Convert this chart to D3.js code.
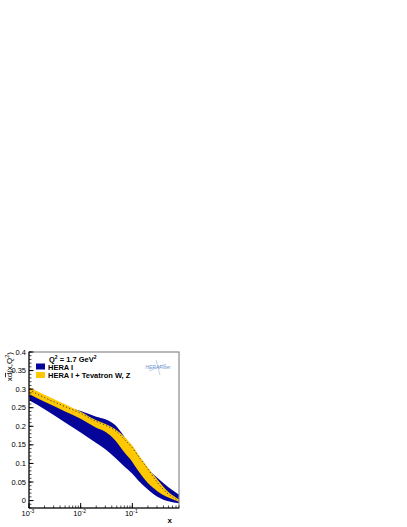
<!DOCTYPE html>
<html>
<head>
<meta charset="utf-8">
<script src="https://cdn.jsdelivr.net/npm/d3@7"></script>
<style>
  body { margin: 0; background: #fff; }
  svg { display: block; font-family: "Liberation Sans", Arial, sans-serif; }
</style>
</head>
<body>
<div id="chart"></div>
<script>
// x grid where the bands were read
const xs = [0.001, 0.002, 0.005, 0.01, 0.02, 0.03, 0.046, 0.07, 0.1, 0.13, 0.2, 0.3, 0.5, 0.8];

// HERA I band
const heraLow  = [0.270, 0.246, 0.210, 0.183, 0.155, 0.138, 0.116, 0.092, 0.072, 0.054, 0.030, 0.011, -0.002, -0.007];
const heraHigh = [0.291, 0.272, 0.253, 0.241, 0.226, 0.219, 0.204, 0.172, 0.140, 0.115, 0.085, 0.062, 0.036, 0.016];

// HERA I + Tevatron W, Z band and its central value
const tevLow  = [0.287, 0.266, 0.240, 0.220, 0.196, 0.185, 0.163, 0.130, 0.104, 0.080, 0.047, 0.026, 0.008, -0.003];
const tevHigh = [0.306, 0.285, 0.259, 0.239, 0.216, 0.206, 0.193, 0.172, 0.148, 0.125, 0.089, 0.058, 0.023, 0.003];
const tevMid  = [0.298, 0.277, 0.253, 0.235, 0.213, 0.203, 0.189, 0.165, 0.142, 0.120, 0.085, 0.050, 0.017, 0.000];

const yTicks = [0, 0.05, 0.1, 0.15, 0.2, 0.25, 0.3, 0.35, 0.4];
const xTicks = [0.001, 0.01, 0.1];
const legendItems = ["HERA I", "HERA I + Tevatron W, Z"];

const width = 407, height = 527;
const mLeft = 29, mRight = 179, mTop = 352, mBottom = 508;

const blue = "#05059a", yellow = "#ffc800";

const x = d3.scaleLog().domain([0.001, 0.8]).range([mLeft, mRight]);
const y = d3.scaleLinear().domain([-0.02, 0.4]).range([mBottom, mTop]);

const svg = d3.select("#chart").append("svg")
    .attr("width", width)
    .attr("height", height);

svg.append("defs").append("clipPath").attr("id", "plot")
  .append("rect").attr("x", mLeft).attr("y", mTop)
  .attr("width", mRight - mLeft).attr("height", mBottom - mTop);

const band = (lo, hi) => d3.area()
    .x((d, i) => x(xs[i]))
    .y0((d, i) => y(lo[i]))
    .y1((d, i) => y(hi[i]))
    .curve(d3.curveMonotoneX)(xs);

const g = svg.append("g").attr("clip-path", "url(#plot)");
g.append("path").attr("d", band(heraLow, heraHigh)).attr("fill", blue);
g.append("path").attr("d", band(tevLow, tevHigh)).attr("fill", yellow);
g.append("path")
    .attr("d", d3.line().x((d, i) => x(xs[i])).y((d, i) => y(tevMid[i])).curve(d3.curveMonotoneX)(xs))
    .attr("fill", "none")
    .attr("stroke", "#3a3a6a")
    .attr("stroke-width", 1)
    .attr("stroke-dasharray", "1.2,2.2");

// frame
svg.append("rect")
    .attr("x", mLeft).attr("y", mTop)
    .attr("width", mRight - mLeft).attr("height", mBottom - mTop)
    .attr("fill", "none").attr("stroke", "#8a8a8a").attr("stroke-width", 1.2);

// y axis (ticks pointing inside)
const yAxis = svg.append("g").attr("transform", `translate(${mLeft},0)`);
yAxis.append("line").attr("y1", mTop).attr("y2", mBottom).attr("stroke", "#000");
const yMinor = d3.range(-0.02, 0.4001, 0.01);
yAxis.selectAll("line.minor").data(yMinor).join("line").attr("class", "minor")
    .attr("x1", 0).attr("x2", 2.5)
    .attr("y1", d => y(d)).attr("y2", d => y(d)).attr("stroke", "#000").attr("stroke-width", 0.7);
yAxis.selectAll("line.major").data(yTicks).join("line").attr("class", "major")
    .attr("x1", 0).attr("x2", 4.5)
    .attr("y1", d => y(d)).attr("y2", d => y(d)).attr("stroke", "#000");
yAxis.selectAll("text").data(yTicks).join("text")
    .attr("x", -3).attr("y", d => y(d) + 2.5)
    .attr("text-anchor", "end")
    .attr("font-size", 7.5)
    .text(d => d3.format("~g")(d));

// x axis (log, ticks pointing up)
const xAxis = svg.append("g").attr("transform", `translate(0,${mBottom})`);
xAxis.append("line").attr("x1", mLeft).attr("x2", mRight).attr("stroke", "#000");
const xMinor = x.ticks().filter(t => t <= 0.8);
xAxis.selectAll("line.minor").data(xMinor).join("line").attr("class", "minor")
    .attr("x1", d => x(d)).attr("x2", d => x(d))
    .attr("y1", 0).attr("y2", -2.5).attr("stroke", "#000").attr("stroke-width", 0.7);
xAxis.selectAll("line.major").data(xTicks).join("line").attr("class", "major")
    .attr("x1", d => x(d)).attr("x2", d => x(d))
    .attr("y1", 0).attr("y2", -5).attr("stroke", "#000");
const xl = xAxis.selectAll("text").data(xTicks).join("text")
    .attr("x", d => x(d) - 1).attr("y", 8)
    .attr("text-anchor", "middle")
    .attr("font-size", 7.5);
xl.append("tspan").text("10");
xl.append("tspan").attr("dy", -3).attr("font-size", 5).text(d => Math.round(Math.log10(d)));

svg.append("text")
    .attr("x", mRight - 7).attr("y", 523)
    .attr("text-anchor", "end")
    .attr("font-size", 8)
    .attr("font-weight", "bold")
    .text("x");

// y title
const yt = svg.append("text")
    .attr("transform", `translate(12,${mTop}) rotate(-90)`)
    .attr("text-anchor", "end")
    .attr("font-size", 8);
yt.append("tspan").text("x");
yt.append("tspan").attr("text-decoration", "overline").text("d");
yt.append("tspan").text("(x,Q");
yt.append("tspan").attr("dy", -3).attr("font-size", 5.5).text("2");
yt.append("tspan").attr("dy", 3).text(")");

// legend
const q = svg.append("text").attr("x", 49).attr("y", 362)
    .attr("font-size", 7.5).attr("font-weight", "bold");
q.append("tspan").text("Q");
q.append("tspan").attr("dy", -3).attr("font-size", 5).text("2");
q.append("tspan").attr("dy", 3).text(" = 1.7 GeV");
q.append("tspan").attr("dy", -3).attr("font-size", 5).text("2");

const leg = svg.append("g");
leg.selectAll("rect").data(legendItems).join("rect")
    .attr("x", 36).attr("y", (d, i) => 363.5 + i * 8.5)
    .attr("width", 9).attr("height", 6)
    .attr("fill", (d, i) => i === 0 ? blue : yellow);
leg.selectAll("text").data(legendItems).join("text")
    .attr("x", 48).attr("y", (d, i) => 369.5 + i * 8.5)
    .attr("font-size", 7.5).attr("font-weight", "bold")
    .text(d => d);

// HERAFitter logo
const logo = svg.append("g").attr("transform", "translate(158,367)");
logo.append("line").attr("x1", -2).attr("y1", -7).attr("x2", 2).attr("y2", 8)
    .attr("stroke", "#9ab6dc").attr("stroke-width", 0.6);
logo.append("line").attr("x1", -9).attr("y1", 4).attr("x2", 8).attr("y2", -3)
    .attr("stroke", "#9ab6dc").attr("stroke-width", 0.6);
logo.append("text").attr("x", 0).attr("y", 1.5)
    .attr("text-anchor", "middle").attr("font-size", 5)
    .attr("font-style", "italic").attr("fill", "#6f93cc")
    .text("HERAFitter");
</script>
</body>
</html>
